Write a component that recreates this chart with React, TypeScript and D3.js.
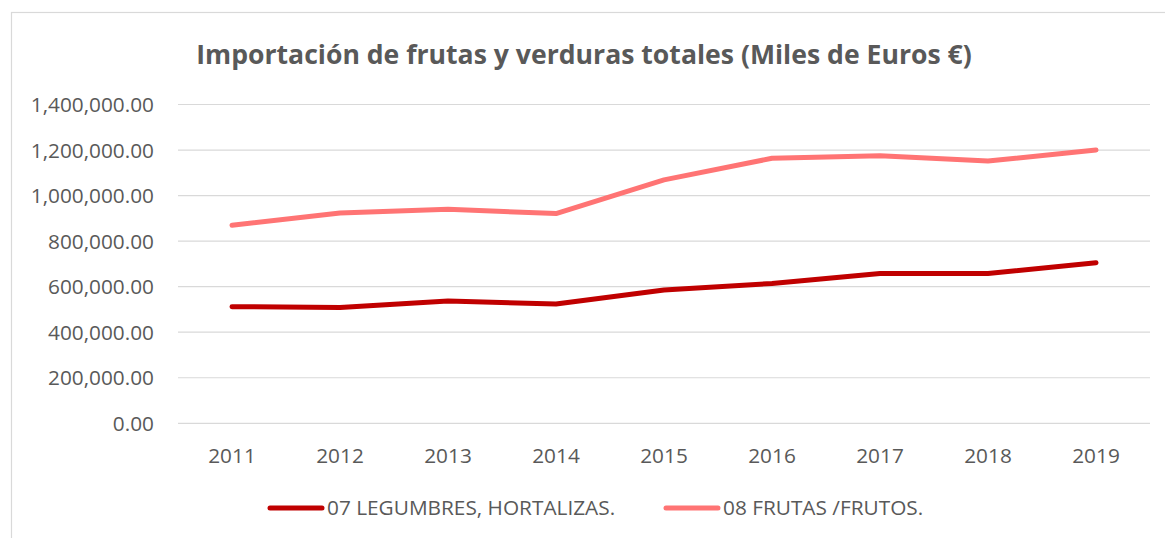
import React from "react";
import * as d3 from "d3";

const years = ["2011", "2012", "2013", "2014", "2015", "2016", "2017", "2018", "2019"];
const legumbres = [512000, 509000, 537000, 524000, 585000, 614000, 658000, 658000, 705000];
const frutas = [870000, 924000, 940000, 921000, 1069000, 1164000, 1175000, 1152000, 1200000];
const yTicks = [0, 200000, 400000, 600000, 800000, 1000000, 1200000, 1400000];
const seriesNames = ["07 LEGUMBRES, HORTALIZAS.", "08 FRUTAS /FRUTOS."];
const colors = ["#C00000", "#FF7474"];

const W = 1165, H = 538;
const left = 178, right = 1150, top = 104.5, bottom = 423.3;
const font = "'Open Sans', sans-serif";
const txt = "#595959";

export default function App() {
  const x = d3.scaleBand<string>().domain(years).range([left, right]);
  const y = d3.scaleLinear().domain([0, 1400000]).range([bottom, top]);
  const fmt = d3.format(",.2f");
  const line = d3
    .line<number>()
    .x((_, i) => (x(years[i]) as number) + x.bandwidth() / 2)
    .y((d) => y(d));
  const series = [legumbres, frutas];
  const legendX = [268, 664];
  return (
    <svg width={W} height={H} style={{ position: "absolute", left: 0, top: 0 }}>
      <rect x={0} y={0} width={W} height={H} fill="#fff" />
      <rect x={11.5} y={12.5} width={1170} height={540} fill="#fff" stroke="#D9D9D9" strokeWidth={1.2} />
      <text x={584} y={64} textAnchor="middle" fontFamily={font} fontWeight="bold" fontSize={26.6} fill={txt}>
        Importación de frutas y verduras totales (Miles de Euros €)
      </text>
      {yTicks.map((t) => (
        <g key={t}>
          <line x1={left} x2={right} y1={y(t)} y2={y(t)} stroke="#D9D9D9" strokeWidth={1.2} />
          <text x={154} y={y(t) + 7.5} textAnchor="end" fontFamily={font} fontSize={20.8} fill={txt}>
            {fmt(t)}
          </text>
        </g>
      ))}
      {years.map((yr) => (
        <text key={yr} x={(x(yr) as number) + x.bandwidth() / 2} y={463} textAnchor="middle" fontFamily={font} fontSize={20.8} fill={txt}>
          {yr}
        </text>
      ))}
      {series.map((s, i) => (
        <path key={i} d={line(s) || ""} fill="none" stroke={colors[i]} strokeWidth={5} strokeLinecap="round" strokeLinejoin="round" />
      ))}
      {seriesNames.map((n, i) => (
        <g key={n}>
          <line x1={legendX[i] + 2} x2={legendX[i] + 54} y1={508} y2={508} stroke={colors[i]} strokeWidth={5} strokeLinecap="round" />
          <text x={legendX[i] + 59} y={515} fontFamily={font} fontSize={20.8} fill={txt}>
            {n}
          </text>
        </g>
      ))}
    </svg>
  );
}
